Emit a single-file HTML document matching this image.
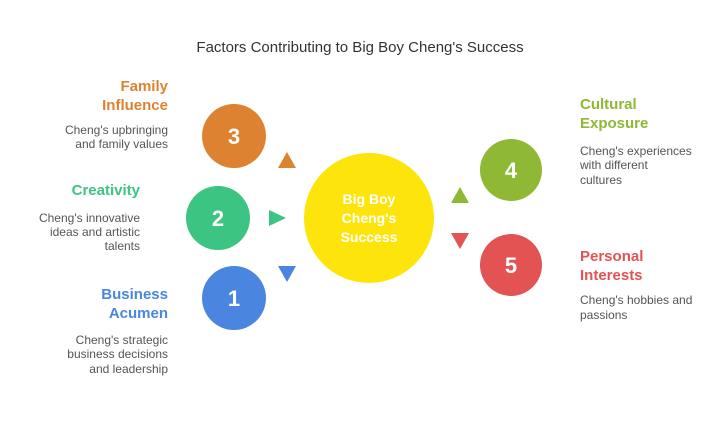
<!DOCTYPE html>
<html><head><style>
body{margin:0;width:720px;height:417px;background:#fff;overflow:hidden;font-family:"Liberation Sans",sans-serif;}
svg text{font-family:"Liberation Sans",sans-serif;}
.t{font-weight:bold;font-size:15px}
.d{font-size:12px;fill:#555}
</style></head><body>
<svg width="720" height="417" xmlns="http://www.w3.org/2000/svg">
<text x="360" y="52" text-anchor="middle" font-size="15" fill="#333">Factors Contributing to Big Boy Cheng's Success</text>
<circle cx="369" cy="218" r="65" fill="#fde50c"/>
<text x="369" y="204" text-anchor="middle" font-weight="bold" font-size="14" fill="#fff">Big Boy</text>
<text x="369" y="223" text-anchor="middle" font-weight="bold" font-size="14" fill="#fff">Cheng's</text>
<text x="369" y="242" text-anchor="middle" font-weight="bold" font-size="14" fill="#fff">Success</text>
<circle cx="234" cy="136" r="32" fill="#dd8230"/>
<circle cx="218" cy="218" r="32" fill="#3cc482"/>
<circle cx="234" cy="298" r="32" fill="#4a86e0"/>
<circle cx="511" cy="170" r="31" fill="#8fb834"/>
<circle cx="511" cy="265" r="31" fill="#e35354"/>
<g font-weight="bold" font-size="22" fill="#fff" text-anchor="middle">
<text x="234" y="144">3</text><text x="218" y="226">2</text><text x="234" y="306">1</text>
<text x="511" y="178">4</text><text x="511" y="273">5</text></g>
<polygon points="287,152 296,168 278,168" fill="#dd8230"/>
<polygon points="269,210 286,218 269,226" fill="#3cc482"/>
<polygon points="278,266 296,266 287,282" fill="#4a86e0"/>
<polygon points="460,187 469,203 451,203" fill="#8fb834"/>
<polygon points="451,233 469,233 460,249" fill="#e35354"/>
<g text-anchor="end">
<text class="t" x="168" y="91" fill="#dd8230">Family</text>
<text class="t" x="168" y="110" fill="#dd8230">Influence</text>
<text class="d" x="168" y="134">Cheng's upbringing</text>
<text class="d" x="168" y="148">and family values</text>
<text class="t" x="140" y="195" fill="#3cc482">Creativity</text>
<text class="d" x="140" y="222">Cheng's innovative</text>
<text class="d" x="140" y="236">ideas and artistic</text>
<text class="d" x="140" y="250">talents</text>
<text class="t" x="168" y="299" fill="#4a86e0">Business</text>
<text class="t" x="168" y="318" fill="#4a86e0">Acumen</text>
<text class="d" x="168" y="344">Cheng's strategic</text>
<text class="d" x="168" y="358">business decisions</text>
<text class="d" x="168" y="373">and leadership</text>
</g>
<text class="t" x="580" y="109" fill="#8fb834">Cultural</text>
<text class="t" x="580" y="128" fill="#8fb834">Exposure</text>
<text class="d" x="580" y="155">Cheng's experiences</text>
<text class="d" x="580" y="169">with different</text>
<text class="d" x="580" y="184">cultures</text>
<text class="t" x="580" y="261" fill="#e35354">Personal</text>
<text class="t" x="580" y="280" fill="#e35354">Interests</text>
<text class="d" x="580" y="304">Cheng's hobbies and</text>
<text class="d" x="580" y="319">passions</text>
</svg>
</body></html>
